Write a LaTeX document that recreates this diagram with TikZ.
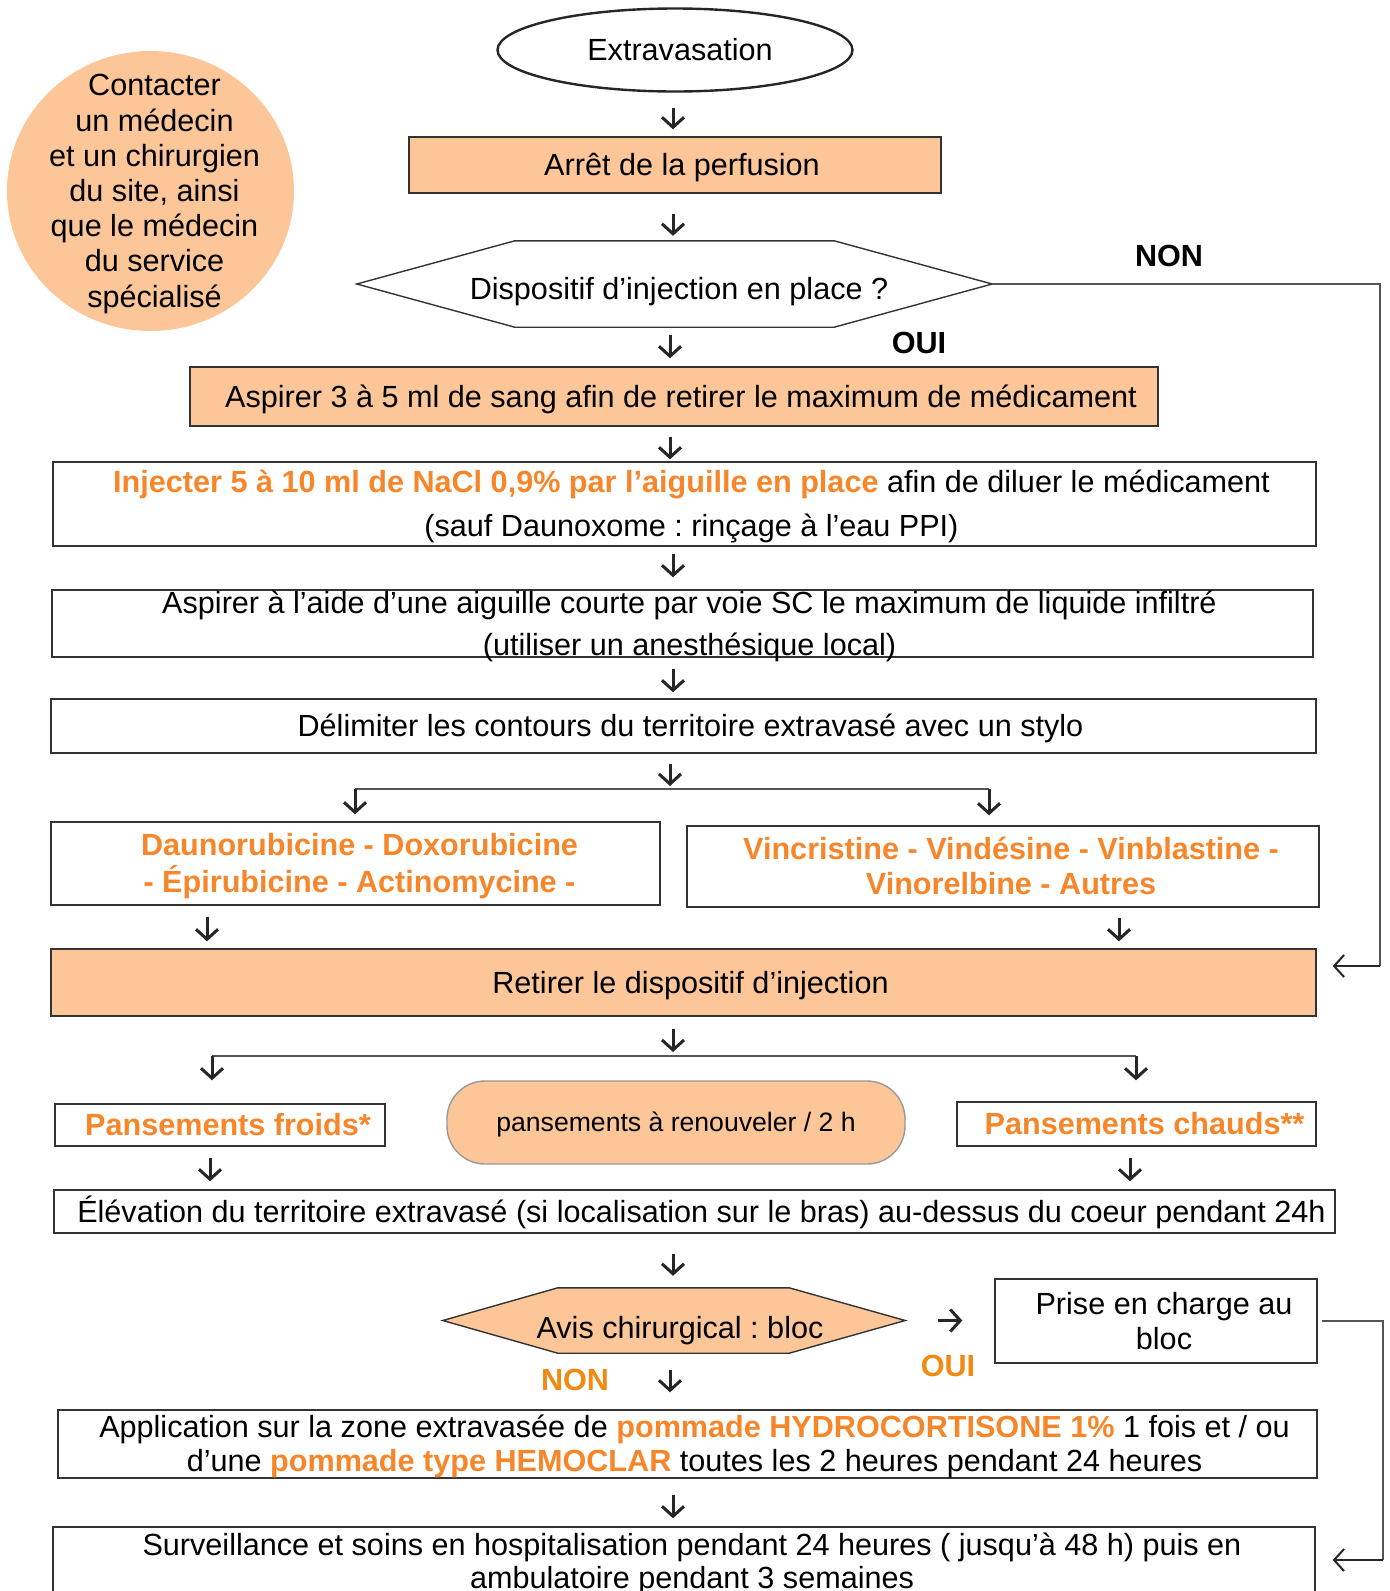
\documentclass[tikz,border=0pt]{standalone}
\usepackage{fontspec}
\setmainfont{Liberation Sans}
\frenchspacing
\usetikzlibrary{arrows.meta,shapes.geometric}
\definecolor{peach}{HTML}{FCC698}
\definecolor{otxt}{HTML}{F7862A}
\definecolor{olab}{HTML}{F08A12}
\definecolor{oline}{HTML}{333333}
\definecolor{cline}{HTML}{555555}
\newcommand\fsz[2]{\fontsize{#1}{#2}\selectfont}
\newcommand\ob[1]{\textbf{\textcolor{otxt}{#1}}}
% centred text block: cap-middle of the lines centred, shifted right by #1 pt;
% reported height and depth are reduced equally so the box keeps its given size
\newcommand\tx[2][7]{\hspace*{#1pt}\hspace*{#1pt}\raisebox{\dimexpr 0.2\baselineskip-\fontcharht\font`X/2\relax}[\dimexpr\height-0.28\baselineskip\relax][\dimexpr\depth-0.28\baselineskip\relax]{\begin{tabular}{@{}c@{}}#2\end{tabular}}}
\begin{document}
\begin{tikzpicture}[x=1pt,y=-1pt,
  font=\fsz{30.6}{36},
  box/.style={draw=oline, line width=1.4pt, inner sep=0pt},
  arr/.style={draw=black!85, line width=3pt, -{Straight Barb[length=10pt,width=22pt]}},
  conn/.style={draw=cline, line width=1.4pt},
  lab/.style={font=\bfseries\fsz{30.6}{36}, inner sep=0pt},
  drug/.style={box, font=\bfseries\fsz{30.6}{34.5}, text=otxt}]
\useasboundingbox (0,0) rectangle (1390,1591);
\fill[white] (0,0) rectangle (1390,1591);

% x reference coordinates
\coordinate (c673) at (673,0);
\coordinate (c670) at (670,0);

% side note
\coordinate (callc) at (150.5,191);
\fill[peach] (callc) ellipse [x radius=143.5, y radius=140];
\node[inner sep=0pt, font=\fsz{30.6}{35.2}] (call) at (callc)
  {\tx[4]{Contacter\\un médecin\\et un chirurgien\\du site, ainsi\\que le médecin\\du service\\spécialisé}};

% main flow
\node[ellipse, draw=black!85, line width=2.4pt, minimum width=355, minimum height=83, inner sep=0pt] (ext) at (675,50) {\tx[5]{Extravasation}};
\node[box, fill=peach, minimum width=532, minimum height=56] (stop) at (675,165) {\tx{Arrêt de la perfusion}};

\node[minimum width=635, minimum height=86, inner sep=0pt] (disp) at (674.5,284) {};
\draw[oline, line width=1.4pt] (disp.west) -- ([xshift=158pt]disp.north west) -- ([xshift=-158pt]disp.north east)
  -- (disp.east) -- ([xshift=-158pt]disp.south east) -- ([xshift=158pt]disp.south west) -- cycle;
\node[inner sep=0pt] (disptxt) at (679,289) {\tx[0]{Dispositif d’injection en place ?}};

\node[lab] (non1) at (1169,256) {NON};
\node[lab] (oui1) at (919,343) {OUI};

\node[box, fill=peach, minimum width=968, minimum height=59] (asp) at (674,396.5)
  {\tx{Aspirer 3 à 5 ml de sang afin de retirer le maximum de médicament}};

\node[box, minimum width=1263, minimum height=84, font=\fsz{30.6}{44}] (inj) at (684.5,504)
  {\tx{\ob{Injecter 5 à 10 ml de NaCl 0,9\% par l’aiguille en place} afin de diluer le médicament\\(sauf Daunoxome : rinçage à l’eau PPI)}};

\node[box, minimum width=1261, minimum height=67, font=\fsz{30.6}{42}] (aig) at (682.5,623.5)
  {\tx{Aspirer à l’aide d’une aiguille courte par voie SC le maximum de liquide infiltré\\(utiliser un anesthésique local)}};

\node[box, minimum width=1265, minimum height=54] (del) at (683.5,726)
  {\tx{Délimiter les contours du territoire extravasé avec un stylo}};

\node[drug, minimum width=609, minimum height=83] (drugL) at (355.5,863.5)
  {\tx[4]{Daunorubicine - Doxorubicine\\- Épirubicine - Actinomycine -}};
\node[drug, minimum width=632, minimum height=81] (drugR) at (1003,866.5)
  {\tx[8]{Vincristine - Vindésine - Vinblastine -\\Vinorelbine - Autres}};

\node[box, fill=peach, minimum width=1265, minimum height=67] (ret) at (683.5,982.5)
  {\tx{Retirer le dispositif d’injection}};

\node[box, minimum width=330, minimum height=42] (froid) at (220,1125) {\tx[8]{\ob{Pansements froids*}}};
\node[draw=black!40, line width=1.4pt, fill=peach, rounded corners=38pt, minimum width=458, minimum height=83, inner sep=0pt, font=\fsz{26.6}{32}] (renouv) at (676,1122.5)
  {\tx[0]{pansements à renouveler / 2 h}};
\node[box, minimum width=359, minimum height=44] (chaud) at (1136.5,1124) {\tx[8]{\ob{Pansements chauds**}}};

\node[box, minimum width=1281, minimum height=43] (elev) at (694.5,1211.5)
  {\tx{Élévation du territoire extravasé (si localisation sur le bras) au-dessus du coeur pendant 24h}};

\node[minimum width=462, minimum height=65, inner sep=0pt] (avis) at (674,1320.5) {};
\draw[oline, line width=1.4pt, fill=peach] (avis.west) -- ([xshift=115pt]avis.north west) -- ([xshift=-116pt]avis.north east)
  -- (avis.east) -- ([xshift=-116pt]avis.south east) -- ([xshift=115pt]avis.south west) -- cycle;
\node[inner sep=0pt] (avistxt) at (680,1328) {\tx[0]{Avis chirurgical : bloc}};

\node[box, minimum width=322, minimum height=84, font=\fsz{30.6}{35}] (prise) at (1156,1321) {\tx[8]{Prise en charge au\\bloc}};

\node[lab, text=olab] (oui2) at (948,1366) {OUI};
\node[lab, text=olab] (non2) at (575,1380) {NON};

\node[box, minimum width=1259, minimum height=68, font=\fsz{30.6}{34}] (app) at (687.5,1444)
  {\tx{Application sur la zone extravasée de \ob{pommade HYDROCORTISONE 1\%} 1 fois et / ou\\d’une \ob{pommade type HEMOCLAR} toutes les 2 heures pendant 24 heures}};

\node[box, minimum width=1262, minimum height=68, font=\fsz{30.6}{33}] (surv) at (684,1561)
  {\tx[8]{Surveillance et soins en hospitalisation pendant 24 heures ( jusqu’à 48 h) puis en\\ambulatoire pendant 3 semaines}};

% arrows
\draw[arr, shorten <=15.5pt, shorten >=7pt] (ext.south -| c673) -- (stop.north -| c673);
\draw[arr, shorten <=20pt, shorten >=5pt] (stop.south -| c673) -- (disp.north -| c673);
\draw[arr, shorten <=8pt, shorten >=8pt] (disp.south -| c670) -- (asp.north -| c670);
\draw[arr, shorten <=10pt, shorten >=2pt] (asp.south -| c670) -- (inj.north -| c670);
\draw[arr, shorten <=7pt, shorten >=12pt] (inj.south -| c673) -- (aig.north -| c673);
\draw[arr, shorten <=11pt, shorten >=6pt] (aig.south -| c673) -- (del.north -| c673);

% first branch
\coordinate (b1L) at (355,789);
\coordinate (b1R) at (989,789);
\draw[arr, shorten <=10pt, shorten >=3pt] (del.south -| c670) -- (b1L -| c670);
\draw[conn] (b1L) -- (b1R);
\draw[arr, shorten >=7pt] (b1L) -- (drugL.north -| b1L);
\draw[arr, shorten >=10pt] (b1R) -- (drugR.north -| b1R);

\coordinate (c207) at (207,0);
\coordinate (c1119) at (1119,0);
\draw[arr, shorten <=11pt, shorten >=7pt] (drugL.south -| c207) -- (ret.north -| c207);
\draw[arr, shorten <=10pt, shorten >=7pt] (drugR.south -| c1119) -- (ret.north -| c1119);

% NON loop
\coordinate (r1) at (1380,966);
\draw[conn] (disp.east) -| (r1);
\draw[arr, line width=2pt, shorten >=16pt] (r1) -- (ret.east |- r1);

% second branch
\coordinate (b2L) at (212,1056);
\coordinate (b2R) at (1136,1056);
\draw[arr, shorten <=12pt, shorten >=4pt] (ret.south -| c673) -- (b2L -| c673);
\draw[conn] (b2L) -- (b2R);
\draw[arr, shorten >=23pt] (b2L) -- (froid.north -| b2L);
\draw[arr, shorten >=21pt] (b2R) -- (chaud.north -| b2R);

\coordinate (c210) at (210,0);
\coordinate (c1130) at (1130,0);
\draw[arr, shorten <=11pt, shorten >=8pt] (froid.south -| c210) -- (elev.north -| c210);
\draw[arr, shorten <=11pt, shorten >=8pt] (chaud.south -| c1130) -- (elev.north -| c1130);

\draw[arr, shorten <=20pt, shorten >=12pt] (elev.south -| c673) -- (avis.north -| c673);
\draw[arr, shorten <=33pt, shorten >=32pt] (avis.east) -- (prise.west |- avis.east);
\draw[arr, shorten <=17pt, shorten >=17pt] (avis.south -| c670) -- (app.north -| c670);
\draw[arr, shorten <=16pt, shorten >=8pt] (app.south -| c673) -- (surv.north -| c673);

% Prise loop
\coordinate (r2t) at (1383,1321);
\coordinate (r2) at (1383,1560);
\draw[conn] ([xshift=4pt]prise.east) -- (r2t) -- (r2);
\draw[arr, line width=2pt, shorten >=17pt] (r2) -- (surv.east |- r2);
\end{tikzpicture}
\end{document}
